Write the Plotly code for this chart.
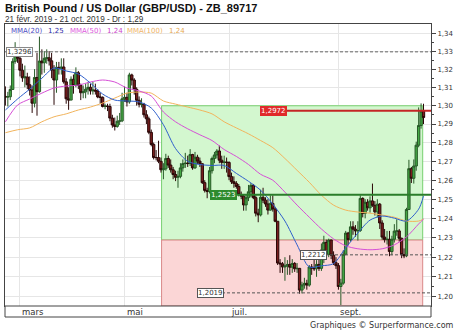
import math
import pandas as pd
import plotly.graph_objects as go

# ---------------- data ----------------
dates = [d.strftime("%Y-%m-%d") for d in pd.bdate_range("2019-02-21", "2019-10-21")]
first_open = 1.3050
closes = [
    1.3047, 1.3048, 1.3088, 1.3243, 1.3286, 1.3260, 1.3194, 1.3152, 1.3157, 1.3114,
    1.3085, 1.3013, 1.3154, 1.3076, 1.3245, 1.3235, 1.3260, 1.3263, 1.3246, 1.3195,
    1.3140, 1.3210, 1.3203, 1.3212, 1.3130, 1.3037, 1.3030, 1.3144, 1.3110, 1.3180,
    1.3111, 1.3070, 1.3075, 1.3090, 1.3100, 1.3080, 1.3085, 1.3079, 1.3047, 1.3045,
    1.2995, 1.2998, 1.2995, 1.2932, 1.2895, 1.2887, 1.2915, 1.2917, 1.3037, 1.3045,
    1.3020, 1.3168, 1.3140, 1.3089, 1.3029, 1.3007, 1.3008, 1.2950, 1.2928, 1.2855,
    1.2790, 1.2720, 1.2720, 1.2700, 1.2655, 1.2660, 1.2715, 1.2680, 1.2655, 1.2630,
    1.2615, 1.2620, 1.2665, 1.2688, 1.2690, 1.2688, 1.2736, 1.2665, 1.2722, 1.2701,
    1.2687, 1.2587, 1.2546, 1.2540, 1.2650, 1.2715, 1.2734, 1.2755, 1.2706, 1.2694,
    1.2696, 1.2694, 1.2619, 1.2592, 1.2583, 1.2567, 1.2525, 1.2516, 1.2470, 1.2508,
    1.2539, 1.2573, 1.2508, 1.2427, 1.2418, 1.2510, 1.2495, 1.2475, 1.2443, 1.2478,
    1.2449, 1.2385, 1.2170, 1.2166, 1.2150, 1.2155, 1.2163, 1.2149, 1.2168, 1.2141,
    1.2143, 1.2033, 1.2059, 1.2067, 1.2058, 1.2150, 1.2145, 1.2141, 1.2163, 1.2143,
    1.2237, 1.2276, 1.2215, 1.2288, 1.2210, 1.2172, 1.2157, 1.2051, 1.2068, 1.2215,
    1.2324, 1.2290, 1.2356, 1.2344, 1.2335, 1.2337, 1.2504, 1.2426, 1.2484, 1.2455,
    1.2491, 1.2468, 1.2434, 1.2474, 1.2376, 1.2303, 1.2290, 1.2292, 1.2229, 1.2292,
    1.2334, 1.2335, 1.2297, 1.2213, 1.2207, 1.2446, 1.2661, 1.2610, 1.2675, 1.2786,
    1.2892, 1.2970, 1.2935,
]
highs = [
    1.3105, 1.3075, 1.3110, 1.3260, 1.3350, 1.3310, 1.3270, 1.3230, 1.3220, 1.3180,
    1.3160, 1.3110, 1.3200, 1.3290, 1.3381, 1.3310, 1.3300, 1.3310, 1.3300, 1.3290,
    1.3222, 1.3240, 1.3240, 1.3260, 1.3260, 1.3150, 1.3100, 1.3160, 1.3170, 1.3210,
    1.3190, 1.3120, 1.3110, 1.3120, 1.3130, 1.3120, 1.3130, 1.3120, 1.3090, 1.3070,
    1.3050, 1.3010, 1.3010, 1.3010, 1.2950, 1.2935, 1.2945, 1.2960, 1.3070, 1.3105,
    1.3070, 1.3180, 1.3175, 1.3150, 1.3100, 1.3050, 1.3040, 1.3015, 1.2975, 1.2940,
    1.2870, 1.2800, 1.2760, 1.2810, 1.2720, 1.2690, 1.2740, 1.2730, 1.2710, 1.2670,
    1.2650, 1.2650, 1.2690, 1.2710, 1.2745, 1.2730, 1.2765, 1.2740, 1.2750, 1.2735,
    1.2720, 1.2690, 1.2600, 1.2560, 1.2670, 1.2725, 1.2750, 1.2765, 1.2784, 1.2730,
    1.2730, 1.2720, 1.2700, 1.2640, 1.2620, 1.2595, 1.2580, 1.2540, 1.2525, 1.2525,
    1.2575, 1.2585, 1.2580, 1.2520, 1.2450, 1.2550, 1.2560, 1.2510, 1.2500, 1.2520,
    1.2520, 1.2460, 1.2385, 1.2190, 1.2175, 1.2200, 1.2185, 1.2210, 1.2190, 1.2175,
    1.2170, 1.2145, 1.2075, 1.2095, 1.2085, 1.2160, 1.2165, 1.2210, 1.2185, 1.2195,
    1.2270, 1.2310, 1.2290, 1.2295, 1.2290, 1.2230, 1.2200, 1.2170, 1.2090, 1.2235,
    1.2335, 1.2330, 1.2385, 1.2385, 1.2365, 1.2385, 1.2520, 1.2510, 1.2500, 1.2500,
    1.2515, 1.2582, 1.2490, 1.2500, 1.2480, 1.2390, 1.2345, 1.2335, 1.2335, 1.2310,
    1.2370, 1.2395, 1.2345, 1.2300, 1.2245, 1.2455, 1.2708, 1.2670, 1.2710, 1.2805,
    1.2990, 1.3012, 1.3010,
]
lows = [
    1.3000, 1.2995, 1.3030, 1.3085, 1.3230, 1.3235, 1.3160, 1.3130, 1.3100, 1.3090,
    1.3055, 1.2960, 1.2990, 1.2945, 1.3070, 1.3170, 1.3180, 1.3230, 1.3220, 1.3150,
    1.3004, 1.3070, 1.3170, 1.3170, 1.3120, 1.3010, 1.2977, 1.3030, 1.3065, 1.3100,
    1.3090, 1.3030, 1.3040, 1.3040, 1.3060, 1.3060, 1.3060, 1.3060, 1.3040, 1.3010,
    1.2990, 1.2980, 1.2970, 1.2915, 1.2880, 1.2865, 1.2880, 1.2895, 1.2910, 1.3020,
    1.2995, 1.3010, 1.3110, 1.3060, 1.3000, 1.2990, 1.2990, 1.2935, 1.2900, 1.2845,
    1.2780, 1.2710, 1.2705, 1.2690, 1.2640, 1.2605, 1.2650, 1.2665, 1.2640, 1.2605,
    1.2595, 1.2560, 1.2610, 1.2645, 1.2665, 1.2670, 1.2675, 1.2655, 1.2660, 1.2685,
    1.2670, 1.2580, 1.2535, 1.2505, 1.2530, 1.2635, 1.2690, 1.2715, 1.2690, 1.2660,
    1.2660, 1.2640, 1.2600, 1.2580, 1.2560, 1.2555, 1.2515, 1.2500, 1.2440, 1.2440,
    1.2490, 1.2510, 1.2500, 1.2410, 1.2380, 1.2410, 1.2480, 1.2460, 1.2420, 1.2440,
    1.2435, 1.2380, 1.2160, 1.2120, 1.2120, 1.2080, 1.2110, 1.2110, 1.2120, 1.2125,
    1.2120, 1.2015, 1.2016, 1.2040, 1.2035, 1.2050, 1.2110, 1.2130, 1.2100, 1.2130,
    1.2130, 1.2170, 1.2200, 1.2200, 1.2190, 1.2160, 1.2140, 1.2035, 1.1958, 1.2060,
    1.2210, 1.2260, 1.2280, 1.2315, 1.2305, 1.2285, 1.2330, 1.2405, 1.2400, 1.2440,
    1.2430, 1.2460, 1.2415, 1.2405, 1.2345, 1.2290, 1.2275, 1.2265, 1.2205, 1.2210,
    1.2275, 1.2310, 1.2280, 1.2195, 1.2195, 1.2200, 1.2445, 1.2585, 1.2582, 1.2650,
    1.2775, 1.2875, 1.2900,
]
opens = [first_open] + closes[:-1]

ma_idx = [0, 5, 10, 15, 20, 25, 30, 35, 40, 45, 50, 55, 60, 65, 70, 75, 80, 85, 90,
          95, 100, 105, 110, 115, 120, 125, 130, 135, 140, 145, 150, 155, 160, 165, 170, 172]
mma20 = [1.2976, 1.3036, 1.3090, 1.3150, 1.3206, 1.3190, 1.3173, 1.3123, 1.3063, 1.3030,
         1.3025, 1.3020, 1.2987, 1.2896, 1.2768, 1.2700, 1.2683, 1.2678, 1.2678, 1.2636,
         1.2594, 1.2547, 1.2474, 1.2386, 1.2263, 1.2150, 1.2156, 1.2167, 1.2248, 1.2324,
         1.2391, 1.2412, 1.2401, 1.2386, 1.2448, 1.2516]
mma50 = [1.2912, 1.3003, 1.3036, 1.3068, 1.3096, 1.3107, 1.3112, 1.3129, 1.3140, 1.3129,
         1.3096, 1.3080, 1.3052, 1.2965, 1.2912, 1.2874, 1.2842, 1.2811, 1.2763, 1.2726,
         1.2683, 1.2631, 1.2600, 1.2537, 1.2469, 1.2406, 1.2345, 1.2294, 1.2258, 1.2243,
         1.2238, 1.2243, 1.2263, 1.2304, 1.2371, 1.2396]
mma100 = [1.2853, 1.2869, 1.2879, 1.2912, 1.2939, 1.2955, 1.2976, 1.2992, 1.3014, 1.3041,
          1.3068, 1.3074, 1.3068, 1.3025, 1.3008, 1.2992, 1.2976, 1.2955, 1.2912, 1.2879,
          1.2847, 1.2811, 1.2773, 1.2715, 1.2652, 1.2589, 1.2521, 1.2469, 1.2443, 1.2433,
          1.2427, 1.2417, 1.2406, 1.2386, 1.2386, 1.2396]
ma_dates = [dates[i] for i in ma_idx]

month_ticks = ["2019-03-01", "2019-05-01", "2019-07-01", "2019-09-02"]
month_text = ["mars", "mai", "juil.", "sept."]
ytick_vals = [1.20, 1.21, 1.22, 1.23, 1.24, 1.25, 1.26, 1.27, 1.28, 1.29, 1.30, 1.31, 1.32, 1.33, 1.34]

levels = [1.3296, 1.2972, 1.2523, 1.2212, 1.2019]
zone_high, zone_mid = 1.2999, 1.2288
zone_start, zone_end = "2019-05-22 06:00", "2019-10-18 16:00"

# ---------------- figure ----------------
W, H = 460, 331
L, R, T, B = 5, 29, 24, 25
PW, PH = W - L - R, H - T - B


def px_x(px):
    return (px - L) / PW


def px_y(py):
    return (T + PH - py) / PH


def fmt(v, n):
    return f"{v:.{n}f}".replace(".", ",")


VERD = "DejaVu Sans, Verdana, sans-serif"
ARIAL = "Liberation Sans, Arial, sans-serif"

fig = go.Figure()
fig.add_trace(go.Candlestick(
    x=dates, open=opens, high=highs, low=lows, close=closes,
    increasing=dict(line=dict(color="#275a27", width=1), fillcolor="#44a844"),
    decreasing=dict(line=dict(color="#2a0707", width=1), fillcolor="#7a1e1e"),
    whiskerwidth=0, hoverinfo="skip",
))
for vals, col in [(mma100, "#f2b45c"), (mma50, "#d64fd6"), (mma20, "#2f5fcc")]:
    fig.add_trace(go.Scatter(x=ma_dates, y=vals, mode="lines",
                             line=dict(color=col, width=1, shape="spline", smoothing=0.8),
                             hoverinfo="skip"))

shapes = []
# zones
shapes.append(dict(type="rect", xref="x", yref="y", x0=zone_start, x1=zone_end,
                   y0=zone_mid, y1=zone_high, fillcolor="#d3f7cf",
                   line=dict(color="#78d071", width=1), layer="between"))
shapes.append(dict(type="rect", xref="x", yref="y", x0=zone_start, x1=zone_end,
                   y0=1.1953, y1=zone_mid, fillcolor="#fbd6d6",
                   line=dict(color="#d98888", width=1), layer="between"))
# level lines
lvl_style = [
    (levels[0], L, dict(color="#666666", width=1, dash="3px,2px")),
    (levels[1], 260, dict(color="#c42525", width=2)),
    (levels[2], 210, dict(color="#2a7d2a", width=2)),
    (levels[3], 300, dict(color="#555555", width=1, dash="3px,2px")),
    (levels[4], 197, dict(color="#555555", width=1, dash="3px,2px")),
]
for v, xs, ln in lvl_style:
    shapes.append(dict(type="line", xref="paper", yref="y", x0=px_x(xs), x1=1,
                       y0=v, y1=v, line=ln, layer="above"))
# date band below plot
shapes.append(dict(type="rect", xref="paper", yref="paper", x0=0, x1=1,
                   y0=px_y(317), y1=0, fillcolor="white",
                   line=dict(color="#444444", width=1), layer="above"))
fig.update_layout(shapes=shapes)

ann = []
# level labels
lbl = [
    (levels[0], 6, "#333333", "white", "#888888"),
    (levels[1], 260, "white", "#e02a2a", "#e02a2a"),
    (levels[2], 210, "white", "#2e8b2e", "#2e8b2e"),
    (levels[3], 300, "#333333", "white", "#555555"),
    (levels[4], 197, "#333333", "white", "#555555"),
]
for v, xs, fc, bg, bc in lbl:
    ann.append(dict(xref="paper", yref="y", x=px_x(xs), y=math.log10(v), xanchor="left",
                    yanchor="middle", text=fmt(v, 4), showarrow=False,
                    font=dict(family=VERD, size=7, color=fc), bgcolor=bg,
                    bordercolor=bc, borderwidth=1, borderpad=0))
# month labels
for d, t in zip(month_ticks, month_text):
    ann.append(dict(xref="x", yref="paper", x=d, y=px_y(311.5), xanchor="left",
                    yanchor="middle", text=t, showarrow=False,
                    font=dict(family=VERD, size=8.5, color="#333333")))
# title / subtitle
ann.append(dict(xref="paper", yref="paper", x=px_x(3), y=px_y(8), xanchor="left",
                yanchor="middle", showarrow=False,
                text="<b>British Pound / US Dollar (GBP/USD) - ZB_89717</b>",
                font=dict(family=ARIAL, size=11, color="#111111")))
ann.append(dict(xref="paper", yref="paper", x=px_x(3), y=px_y(19), xanchor="left",
                yanchor="middle", showarrow=False,
                text=f"21 févr. 2019 - 21 oct. 2019 - Dr : {fmt(closes[-1], 2)}",
                font=dict(family=ARIAL, size=8.2, color="#333333")))
# MA legend
leg = [("MMA(20)", 9, "#4a4ac4"), (fmt(mma20[-1], 2), 46, "#2a2aa8"),
       ("MMA(50)", 68, "#dd55dd"), (fmt(mma50[-1], 2), 105, "#cc44cc"),
       ("MMA(100)", 125, "#f0b466"), (fmt(mma100[-1], 2), 167, "#e8a850")]
for t, xs, c in leg:
    ann.append(dict(xref="paper", yref="paper", x=px_x(xs), y=px_y(31), xanchor="left",
                    yanchor="middle", showarrow=False, text=t,
                    font=dict(family=VERD, size=7, color=c)))
# credit
ann.append(dict(xref="paper", yref="paper", x=px_x(456), y=px_y(325), xanchor="right",
                yanchor="middle", showarrow=False, text="Graphiques © Surperformance.com",
                font=dict(family=VERD, size=8, color="#333333")))
fig.update_layout(annotations=ann)

minor_vals = [round(1.195 + 0.01 * k, 3) for k in range(15)]
fig.update_layout(
    width=W, height=H, margin=dict(l=L, r=R, t=T, b=B, pad=0),
    paper_bgcolor="white", plot_bgcolor="white", showlegend=False,
    boxgap=0.05, boxgroupgap=0,
    xaxis=dict(type="date", range=["2019-02-20 20:00", "2019-10-24 02:00"],
               rangebreaks=[dict(bounds=["sat", "mon"])],
               rangeslider=dict(visible=False),
               tickvals=month_ticks, showticklabels=False, ticks="",
               showgrid=True, gridcolor="#e6e6e6", gridwidth=1,
               showline=True, mirror=True, linecolor="#444444", linewidth=1,
               zeroline=False, fixedrange=True),
    yaxis=dict(type="log", side="right",
               range=[math.log10(1.1953), math.log10(1.3452)],
               tickvals=ytick_vals, ticktext=[fmt(v, 2) for v in ytick_vals],
               ticks="outside", ticklen=4, tickcolor="#444444",
               tickfont=dict(family=VERD, size=7, color="#333333"),
               minor=dict(tickvals=minor_vals, ticks="outside", ticklen=2,
                          tickcolor="#444444", showgrid=False),
               showgrid=True, gridcolor="#e6e6e6", gridwidth=1,
               showline=True, mirror=True, linecolor="#444444", linewidth=1,
               zeroline=False, fixedrange=True),
)

fig.write_html("out.html")
